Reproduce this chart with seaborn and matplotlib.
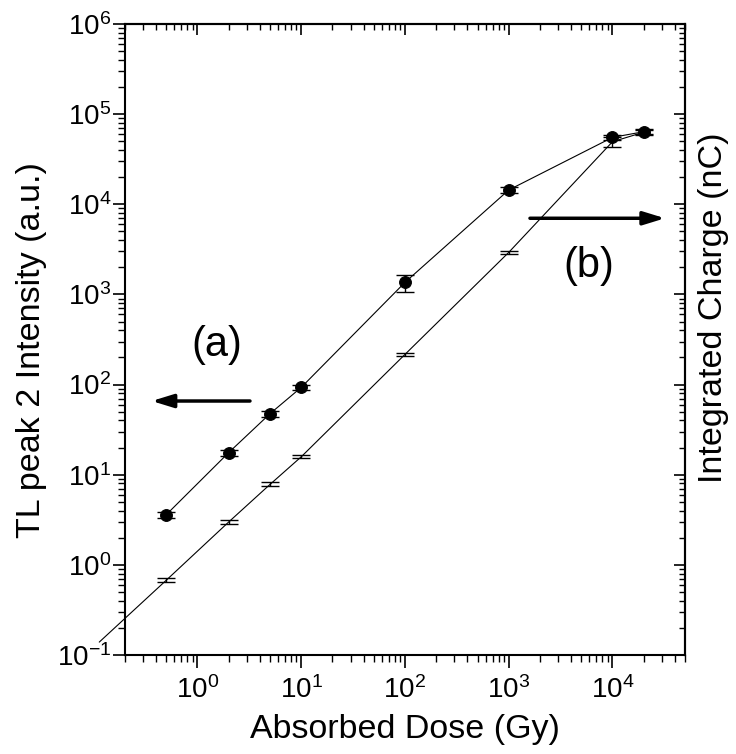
import numpy as np
import pandas as pd
import matplotlib
matplotlib.use("Agg")
import matplotlib.pyplot as plt
import seaborn as sns

# ---- data ----
dose = [0.5, 2, 5, 10, 100, 1000, 10000, 20000]
tl_intensity = [3.6, 17.6, 47.5, 93, 1360, 14400, 55200, 63800]
tl_err = [0.3, 1.4, 4, 5, 290, 1000, 4000, 4500]
charge = [0.675, 2.99, 7.8, 15.8, 216, 2925, 49400, 63000]
charge_err = [0.035, 0.18, 0.4, 0.6, 10, 100, 6000, 3000]
# start of the (b) line, drawn beyond the left axis edge
charge_line_start_x = [0.113]
charge_line_start_y = [0.139]

xlabel = "Absorbed Dose (Gy)"
ylabel_left = "TL peak 2 Intensity (a.u.)"
ylabel_right = "Integrated Charge (nC)"

sns.set_style("ticks")
plt.rcParams["font.family"] = ["Liberation Sans", "DejaVu Sans"]
plt.rcParams["mathtext.default"] = "regular"
for k in ["text.color", "axes.labelcolor", "xtick.color", "ytick.color",
          "axes.edgecolor"]:
    plt.rcParams[k] = "black"

df_a = pd.DataFrame({"dose": dose, "val": tl_intensity})
df_b = pd.DataFrame({"dose": charge_line_start_x + dose,
                     "val": charge_line_start_y + charge})

fig = plt.figure(figsize=(7.36, 7.54), dpi=100)
ax = fig.add_axes([0.1698, 0.1313, 0.7609, 0.8369])

sns.lineplot(data=df_a, x="dose", y="val", ax=ax, color="black", lw=0.8,
             marker="o", markersize=8.5, markeredgecolor="black",
             estimator=None, sort=False, legend=False)
sns.lineplot(data=df_b, x="dose", y="val", ax=ax, color="black", lw=0.8,
             estimator=None, sort=False, legend=False)
ax.lines[-1].set_clip_on(False)

ax.errorbar(dose, tl_intensity, yerr=tl_err, fmt="none", ecolor="black",
            elinewidth=1.0, capsize=6.5, capthick=1.0)
ax.errorbar(dose, charge, yerr=charge_err, fmt="none", ecolor="black",
            elinewidth=1.0, capsize=6.5, capthick=1.0)

ax.set_xscale("log")
ax.set_yscale("log")
ax.set_xlim(0.2, 50000)
ax.set_ylim(0.1, 1e6)

for s in ax.spines.values():
    s.set_linewidth(1.5)
    s.set_visible(True)

ax.tick_params(axis="both", which="major", direction="out", length=9,
               width=1.2, labelsize=20)
ax.tick_params(axis="both", which="minor", direction="out", length=5,
               width=1.0)
ax.tick_params(axis="x", which="major", pad=6)
ax.tick_params(axis="y", which="major", pad=1)

secx = ax.secondary_xaxis("top")
secx.tick_params(axis="x", which="major", direction="in", length=8, width=1.2,
                 labeltop=False)
secx.tick_params(axis="x", which="minor", direction="in", length=4, width=1.0)
secx.spines["top"].set_linewidth(1.5)

secy = ax.secondary_yaxis("right")
secy.tick_params(axis="y", which="major", direction="in", length=8, width=1.2,
                 labelright=False)
secy.tick_params(axis="y", which="minor", direction="in", length=4, width=1.0)
secy.spines["right"].set_linewidth(1.5)

ax.set_xlabel(xlabel, fontsize=24.5)
ax.xaxis.set_label_coords(0.5, -0.094)
ax.set_ylabel(ylabel_left, fontsize=24.5)
ax.yaxis.set_label_coords(-0.139, 0.4826)

# right-hand axis title
ax.text(1.024, 0.55, ylabel_right, transform=ax.transAxes, fontsize=24.5,
        rotation=90, rotation_mode="anchor", ha="center", va="top")

# annotations
ax.text(0.164, 0.4913, "(a)", transform=ax.transAxes, fontsize=30,
        ha="center", va="center")
ax.text(0.8286, 0.6165, "(b)", transform=ax.transAxes, fontsize=30,
        ha="center", va="center")
arrow_style = dict(arrowstyle="-|>,head_length=0.65,head_width=0.2",
                   color="black", lw=2.5, shrinkA=0, shrinkB=0,
                   mutation_scale=20)
ax.annotate("", xy=(0.0477, 0.4025), xytext=(0.2232, 0.4025),
            xycoords="axes fraction", textcoords="axes fraction",
            arrowprops=arrow_style)
ax.annotate("", xy=(0.9643, 0.6921), xytext=(0.7232, 0.6921),
            xycoords="axes fraction", textcoords="axes fraction",
            arrowprops=arrow_style)

fig.savefig("out.png", dpi=100)
